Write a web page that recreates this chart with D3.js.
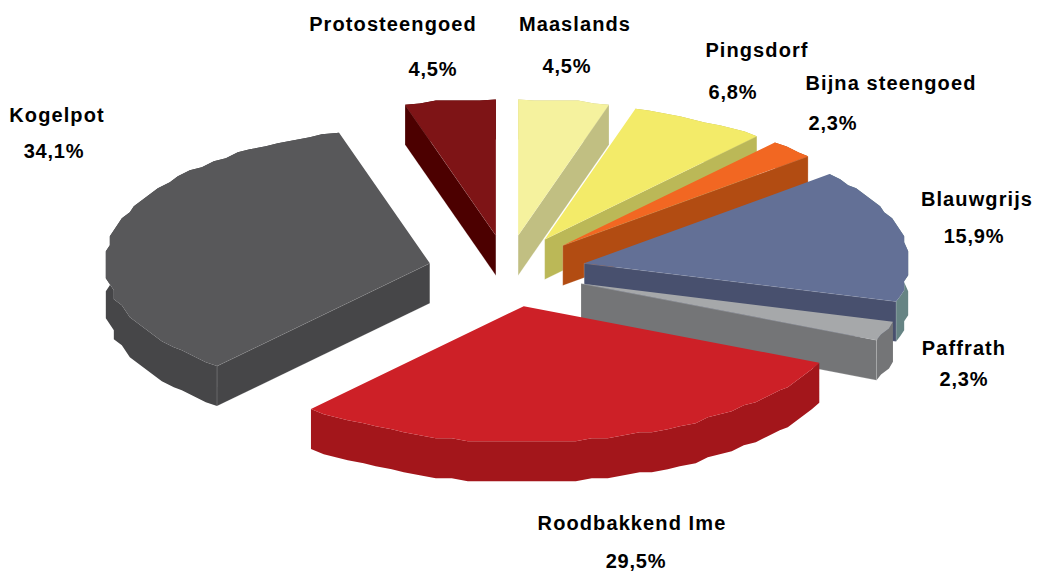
<!DOCTYPE html>
<html>
<head>
<meta charset="utf-8">
<script src="https://cdn.jsdelivr.net/npm/d3@7"></script>
<style>
    html, body { margin: 0; padding: 0; background: #fff; }
    text { font-family: "Liberation Sans", Arial, sans-serif; font-weight: bold; font-size: 20px; fill: #000; }
</style>
</head>
<body>
<div id="chart"></div>
<script>
const categories = ["Maaslands", "Pingsdorf", "Bijna steengoed", "Blauwgrijs", "Paffrath", "Roodbakkend Ime", "Kogelpot", "Protosteengoed"];
const values = [4.5, 6.8, 2.3, 15.9, 2.3, 29.5, 34.1, 4.5];
const valueLabels = ["4,5%", "6,8%", "2,3%", "15,9%", "2,3%", "29,5%", "34,1%", "4,5%"];

// colours per slice
const topColors = ["#f5f29e", "#f3eb69", "#f26722", "#637096", "#a6a8aa", "#cd2027", "#58585a", "#7e1416"];
const wallColors = ["#c1bf82", "#bbb857", "#b24c12", "#48506e", "#747577", "#a3161b", "#464648", "#4c0000"];
const rimColors = ["#c1bf82", "#bbb857", "#b24c12", "#668484", "#747577", "#a3161b", "#464648", "#4c0000"];

// label centres: [name x, name baseline, value x, value baseline]
const labelPos = [
    [575, 31, 567, 73],
    [757, 57, 733, 99],
    [891, 90, 833, 130],
    [977, 206, 974, 243],
    [964, 355, 964, 386],
    [632, 530, 636, 568],
    [57, 122, 54, 158],
    [393, 31, 433, 76]
];

const width = 1037, height = 573;
const cx = 507, cy = 271;
const rx = 325, ry = 136;
const depth = 40;
const explode = 79;
const gridX = 4, gridY = 3;

const svg = d3.select("#chart")
    .append("svg")
    .attr("width", width)
    .attr("height", height)
    .style("display", "block");

const arcs = d3.pie().sort(null).value(d => d)(values);

const x_scale = d3.scaleLinear().domain([-1, 1]).range([-rx, rx]);
const y_scale = d3.scaleLinear().domain([-1, 1]).range([-ry, ry]);

const line = d3.line();

// rough outline like the low-res original: sample the arc, snap to a grid
function rimPoints(a0, a1) {
    const n = Math.max(2, Math.ceil((a1 - a0) / 0.05));
    return d3.range(n + 1).map(i => {
        const a = a0 + (a1 - a0) * i / n;
        const px = x_scale(Math.sin(a)), py = y_scale(-Math.cos(a));
        if (i === 0 || i === n) return [px, py];
        return [Math.round(px / gridX) * gridX, Math.round(py / gridY) * gridY];
    });
}

const slices = arcs.map((d, i) => {
    const mid = (d.startAngle + d.endAngle) / 2;
    return {
        i,
        d,
        ox: cx + Math.sin(mid) * explode,
        oy: cy - Math.cos(mid) * explode * 0.455,
        rim: rimPoints(d.startAngle, d.endAngle)
    };
});

// back slices first
const ordered = slices.slice().sort((a, b) => d3.ascending(a.oy, b.oy));

ordered.forEach(s => {
    const g = svg.append("g").attr("transform", `translate(${s.ox},${s.oy})`);
    const first = s.rim[0], last = s.rim[s.rim.length - 1];
    const down = p => [p[0], p[1] + depth];

    g.append("path")
        .attr("d", line(s.rim.concat(s.rim.slice().reverse().map(down))) + "Z")
        .attr("fill", rimColors[s.i]);

    // only the cut faces turned towards the viewer
    const walls = [];
    if (Math.sin(s.d.startAngle) < -0.01) walls.push(first);
    if (Math.sin(s.d.endAngle) > 0.01) walls.push(last);
    walls.forEach(p => {
        g.append("path")
            .attr("d", line([[0, 0], p, down(p), [0, depth]]) + "Z")
            .attr("fill", wallColors[s.i])
            .attr("stroke", "#fff")
            .attr("stroke-opacity", 0.3)
            .attr("stroke-width", 0.6);
    });

    g.append("path")
        .attr("d", line([[0, 0]].concat(s.rim)) + "Z")
        .attr("fill", topColors[s.i]);
});

categories.forEach((c, i) => {
    svg.append("text")
        .attr("x", labelPos[i][0])
        .attr("y", labelPos[i][1])
        .attr("text-anchor", "middle")
        .style("letter-spacing", "1.1px")
        .text(c);
    svg.append("text")
        .attr("x", labelPos[i][2])
        .attr("y", labelPos[i][3])
        .attr("text-anchor", "middle")
        .style("letter-spacing", "0.8px")
        .text(valueLabels[i]);
});
</script>
</body>
</html>
